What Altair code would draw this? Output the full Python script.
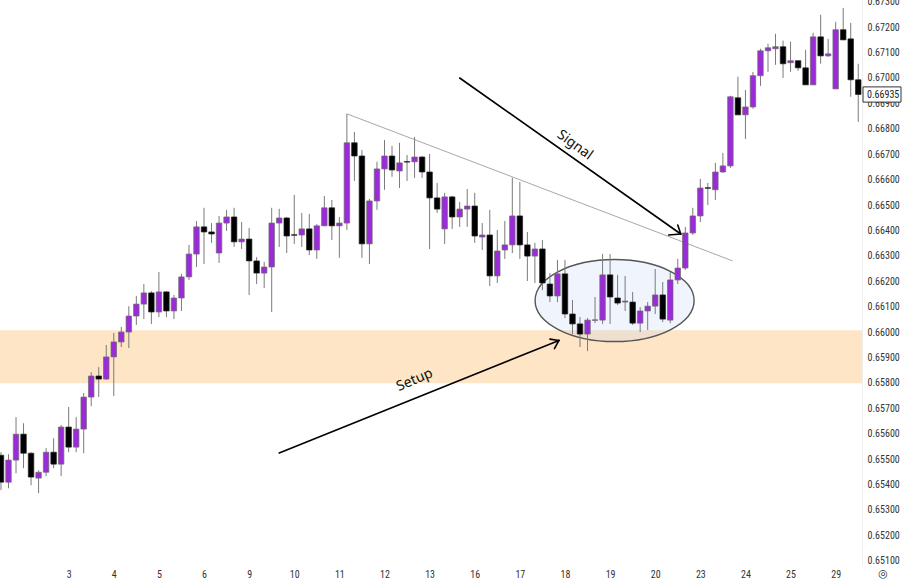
import altair as alt
import pandas as pd

# ---------------- data (4h candles) ----------------
opens = [0.65515, 0.65409, 0.65496, 0.65598, 0.65523, 0.65425, 0.65448, 0.65527, 0.65480, 0.65626,
         0.65547, 0.65618, 0.65744, 0.65827, 0.65815, 0.65902, 0.65961, 0.66000, 0.66063, 0.66110,
         0.66154, 0.66079, 0.66158, 0.66083, 0.66134, 0.66217, 0.66307, 0.66414, 0.66394, 0.66311,
         0.66429, 0.66453, 0.66355, 0.66366, 0.66280, 0.66232, 0.66256, 0.66429, 0.66449, 0.66383,
         0.66382, 0.66406, 0.66323, 0.66418, 0.66489, 0.66418, 0.66429, 0.66745, 0.66693, 0.66347,
         0.66516, 0.66642, 0.66693, 0.66634, 0.66671, 0.66670, 0.66689, 0.66630, 0.66528, 0.66406,
         0.66532, 0.66453, 0.66484, 0.66496, 0.66374, 0.66382, 0.66221, 0.66323, 0.66343, 0.66457,
         0.66343, 0.66299, 0.66327, 0.66189, 0.66142, 0.66229, 0.66071, 0.66032, 0.65992, 0.66046,
         0.66047, 0.66225, 0.66134, 0.66118, 0.66118, 0.66035, 0.66083, 0.66102, 0.66146, 0.66047,
         0.66205, 0.66252, 0.66390, 0.66457, 0.66568, 0.66560, 0.66630, 0.66654, 0.66922, 0.66855,
         0.66886, 0.67009, 0.67107, 0.67115, 0.67123, 0.67060, 0.67068, 0.67040, 0.66973, 0.67162,
         0.67087, 0.66957, 0.67190, 0.67154, 0.66993]
highs = [0.65527, 0.65519, 0.65665, 0.65641, 0.65527, 0.65456, 0.65543, 0.65582, 0.65634, 0.65705,
         0.65665, 0.65760, 0.65842, 0.65862, 0.65949, 0.65996, 0.66020, 0.66102, 0.66142, 0.66189,
         0.66161, 0.66236, 0.66161, 0.66146, 0.66229, 0.66343, 0.66437, 0.66489, 0.66429, 0.66457,
         0.66481, 0.66489, 0.66433, 0.66410, 0.66295, 0.66276, 0.66489, 0.66485, 0.66453, 0.66540,
         0.66469, 0.66465, 0.66425, 0.66536, 0.66520, 0.66453, 0.66859, 0.66788, 0.66717, 0.66524,
         0.66670, 0.66756, 0.66733, 0.66745, 0.66697, 0.66768, 0.66693, 0.66701, 0.66587, 0.66548,
         0.66536, 0.66512, 0.66563, 0.66548, 0.66429, 0.66481, 0.66402, 0.66437, 0.66607, 0.66591,
         0.66394, 0.66351, 0.66362, 0.66232, 0.66284, 0.66284, 0.66126, 0.66059, 0.66055, 0.66138,
         0.66307, 0.66307, 0.66225, 0.66221, 0.66158, 0.66098, 0.66118, 0.66248, 0.66197, 0.66236,
         0.66288, 0.66414, 0.66489, 0.66603, 0.66587, 0.66666, 0.66705, 0.66930, 0.67005, 0.66953,
         0.67024, 0.67115, 0.67135, 0.67174, 0.67147, 0.67143, 0.67070, 0.67111, 0.67178, 0.67249,
         0.67154, 0.67221, 0.67276, 0.67217, 0.67056]
lows = [0.65378, 0.65385, 0.65444, 0.65464, 0.65397, 0.65366, 0.65433, 0.65464, 0.65433, 0.65527,
        0.65527, 0.65523, 0.65708, 0.65744, 0.65811, 0.65748, 0.65941, 0.65937, 0.66028, 0.66051,
        0.66032, 0.66059, 0.66059, 0.66051, 0.66083, 0.66205, 0.66256, 0.66268, 0.66351, 0.66272,
        0.66398, 0.66335, 0.66327, 0.66146, 0.66189, 0.66173, 0.66079, 0.66335, 0.66311, 0.66347,
        0.66335, 0.66303, 0.66288, 0.66418, 0.66362, 0.66292, 0.66402, 0.66595, 0.66292, 0.66268,
        0.66481, 0.66560, 0.66611, 0.66567, 0.66595, 0.66607, 0.66607, 0.66327, 0.66469, 0.66347,
        0.66406, 0.66414, 0.66414, 0.66351, 0.66323, 0.66181, 0.66193, 0.66288, 0.66311, 0.66288,
        0.66201, 0.66193, 0.66165, 0.66118, 0.66118, 0.66055, 0.65992, 0.65941, 0.65925, 0.66035,
        0.66032, 0.66032, 0.66106, 0.66083, 0.66028, 0.66000, 0.66008, 0.66071, 0.66039, 0.66035,
        0.66189, 0.66244, 0.66382, 0.66433, 0.66500, 0.66520, 0.66626, 0.66646, 0.66855, 0.66760,
        0.66879, 0.66969, 0.67024, 0.67052, 0.67000, 0.67024, 0.67028, 0.66973, 0.66973, 0.67056,
        0.67083, 0.66957, 0.67150, 0.66926, 0.66827]
closes = [0.65409, 0.65496, 0.65598, 0.65523, 0.65429, 0.65448, 0.65527, 0.65480, 0.65626, 0.65547,
          0.65618, 0.65744, 0.65827, 0.65815, 0.65902, 0.65961, 0.66000, 0.66063, 0.66110, 0.66154,
          0.66079, 0.66158, 0.66083, 0.66134, 0.66217, 0.66307, 0.66414, 0.66394, 0.66386, 0.66429,
          0.66453, 0.66355, 0.66366, 0.66280, 0.66232, 0.66256, 0.66429, 0.66449, 0.66378, 0.66381,
          0.66406, 0.66323, 0.66418, 0.66489, 0.66418, 0.66429, 0.66745, 0.66693, 0.66347, 0.66516,
          0.66642, 0.66693, 0.66638, 0.66666, 0.66669, 0.66689, 0.66630, 0.66528, 0.66484, 0.66532,
          0.66453, 0.66484, 0.66496, 0.66378, 0.66382, 0.66221, 0.66319, 0.66343, 0.66457, 0.66343,
          0.66299, 0.66327, 0.66193, 0.66142, 0.66229, 0.66071, 0.66032, 0.65992, 0.66047, 0.66048,
          0.66225, 0.66138, 0.66114, 0.66122, 0.66035, 0.66083, 0.66102, 0.66146, 0.66051, 0.66205,
          0.66252, 0.66390, 0.66457, 0.66567, 0.66566, 0.66630, 0.66654, 0.66926, 0.66855, 0.66886,
          0.67009, 0.67107, 0.67119, 0.67123, 0.67056, 0.67068, 0.67040, 0.66973, 0.67162, 0.67087,
          0.67095, 0.67190, 0.67150, 0.66993, 0.66935]

day_labels = ["3", "4", "5", "6", "9", "10", "11", "12", "13", "16", "17", "18", "19", "20",
              "23", "24", "25", "29"]
first_day_candle = 9
candles_per_day = 6

price_ticks = [round(0.651 + 0.001 * k, 3) for k in range(23)]

# support zone
zone_low = 0.65798
zone_high = 0.66007

# triangle (descending) line: candle index / price
trend_idx = [46.0, 97.3]
trend_price = [0.66859, 0.66280]

# arrows: segments (start idx, start price, end idx, end price)
signal_arrow = [(61.0, 0.67000, 90.4, 0.66386),
                (90.4, 0.66386, 88.8, 0.66382),
                (90.4, 0.66386, 90.0, 0.66421)]
setup_arrow = [(37.0, 0.65524, 74.2, 0.65967),
               (74.2, 0.65967, 73.0, 0.65972),
               (74.2, 0.65967, 73.6, 0.65935)]

# ellipse around setup
ellipse_idx = [81.6]
ellipse_price = [0.66124]

# annotation texts
note_text = ["Signal", "Setup"]
note_idx = [76.3, 55.0]
note_price = [0.66736, 0.65811]
note_angle = [36, 337]

last_close = closes[-1]

# ---------------- layout / style ----------------
W, H = 862, 565
x_domain = [-0.13, 114.5]
y_domain = [0.65083, 0.67307]
UP = "#9b2bd9"
DOWN = "#000000"
FONT = "Liberation Sans Narrow, Roboto Condensed, Liberation Sans, sans-serif"

df = pd.DataFrame({"i": list(range(len(opens))), "open": opens, "high": highs,
                   "low": lows, "close": closes})
df["dir"] = ["up" if c >= o else "down" for o, c in zip(opens, closes)]

tick_idx = [first_day_candle + candles_per_day * k for k in range(len(day_labels))]
label_arr = "[" + ",".join("'%s'" % d for d in day_labels) + "]"
label_expr = "%s[round((datum.value - %d) / %d)]" % (label_arr, first_day_candle, candles_per_day)

x_axis = alt.Axis(values=tick_idx, labelExpr=label_expr, title=None, domain=False, ticks=False,
                  grid=False, labelFontSize=10, labelColor="#333333", labelPadding=4, labelFont=FONT)
y_axis = alt.Axis(orient="right", values=price_ticks, format=".5f", title=None, ticks=False,
                  grid=False, domain=True, domainColor="#eeeeee", labelFontSize=10,
                  labelColor="#333333", labelPadding=5, labelFont=FONT)
xs = alt.Scale(domain=x_domain, nice=False, zero=False, padding=0)
ys = alt.Scale(domain=y_domain, nice=False, zero=False, padding=0)


def X(f):
    return alt.X(f, type="quantitative", scale=xs, axis=x_axis)


def Y(f):
    return alt.Y(f, type="quantitative", scale=ys, axis=y_axis)


zone = alt.Chart(pd.DataFrame({"lo": [zone_low], "hi": [zone_high]})).mark_rect(
    color="#fde5c6").encode(x=alt.value(0), x2=alt.value(W), y=Y("lo"), y2=alt.Y2("hi"))

ELLIPSE = "M -1 0 A 1 0.516 0 1 1 1 0 A 1 0.516 0 1 1 -1 0 Z"
ellipse = alt.Chart(pd.DataFrame({"i": ellipse_idx, "p": ellipse_price})).mark_point(
    shape=ELLIPSE, size=159 ** 2, filled=True, fill="#b4c8f0", fillOpacity=0.2,
    stroke="#555555", strokeWidth=1.4, opacity=1).encode(x=X("i"), y=Y("p"))

wicks = alt.Chart(df).mark_rule(color="#7a7a7a", strokeWidth=1).encode(
    x=X("i"), y=Y("low"), y2=alt.Y2("high"))

bodies = alt.Chart(df).mark_bar(size=5.5, strokeWidth=0.7).encode(
    x=X("i"), y=Y("open"), y2=alt.Y2("close"),
    color=alt.Color("dir:N", scale=alt.Scale(domain=["up", "down"], range=[UP, DOWN]), legend=None),
    stroke=alt.Stroke("dir:N", scale=alt.Scale(domain=["up", "down"], range=["#6d6d6d", "#222222"]),
                      legend=None))

trend = alt.Chart(pd.DataFrame({"i": [trend_idx[0]], "p": [trend_price[0]],
                                "i2": [trend_idx[1]], "p2": [trend_price[1]]})).mark_rule(
    color="#a8a8a8", strokeWidth=1).encode(x=X("i"), y=Y("p"), x2=alt.X2("i2"), y2=alt.Y2("p2"))

arrows_df = pd.DataFrame(signal_arrow + setup_arrow, columns=["i", "p", "i2", "p2"])
arrows = alt.Chart(arrows_df).mark_rule(color="#000000", strokeWidth=1.6, strokeCap="round").encode(
    x=X("i"), y=Y("p"), x2=alt.X2("i2"), y2=alt.Y2("p2"))

notes = alt.Chart(pd.DataFrame({"t": note_text, "i": note_idx, "p": note_price,
                                "a": note_angle})).mark_text(
    fontSize=14, font="Noto Sans", color="#111111", align="center", baseline="middle").encode(
    x=X("i"), y=Y("p"), text="t:N", angle=alt.Angle("a:Q", scale=None))

TAG = "M -1 -0.4 L 1 -0.4 L 1 0.4 L -1 0.4 Z"
tag_df = pd.DataFrame({"p": [last_close], "t": ["%.5f" % last_close]})
tag_box = alt.Chart(tag_df).mark_point(shape=TAG, size=38 ** 2, filled=True, fill="#ffffff",
                                       stroke="#333333", strokeWidth=1, opacity=1).encode(
    x=alt.value(W + 20), y=Y("p"))
tag_text = alt.Chart(tag_df).mark_text(fontSize=10, font=FONT, color="#222222", align="left",
                                       baseline="middle").encode(
    x=alt.value(W + 5), y=Y("p"), text="t:N")

gear = alt.Chart(pd.DataFrame({"t": ["◎"]})).mark_text(fontSize=11, color="#333333",
                                                         font="DejaVu Sans", baseline="middle").encode(
    x=alt.value(W + 21), y=alt.value(H + 9), text="t:N")

chart = alt.layer(zone, ellipse, trend, wicks, bodies, arrows, notes, tag_box, tag_text, gear).properties(
    width=W, height=H, autosize=alt.AutoSizeParams(type="none"),
    padding={"left": 0, "top": 0, "right": 41, "bottom": 18},
    background="#ffffff").configure_view(strokeWidth=0)

chart.save("out.html", embed_options={"renderer": "svg", "actions": False})
